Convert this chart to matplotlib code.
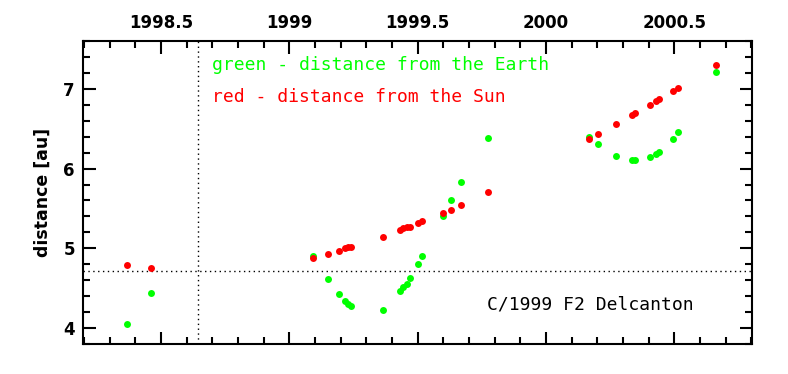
import numpy as np
import matplotlib
import matplotlib.pyplot as plt
from matplotlib.ticker import MultipleLocator

matplotlib.use('Agg')

# distance from the Earth (green)
earth_t = [1998.368, 1998.462, 1999.091, 1999.150, 1999.194, 1999.217, 1999.230, 1999.240,
           1999.364, 1999.431, 1999.444, 1999.457, 1999.470, 1999.500, 1999.517,
           1999.600, 1999.629, 1999.668, 1999.774,
           2000.168, 2000.203, 2000.273, 2000.334, 2000.347, 2000.405, 2000.427, 2000.441,
           2000.494, 2000.514, 2000.663]
earth_d = [4.059, 4.446, 4.910, 4.620, 4.430, 4.345, 4.310, 4.275,
           4.225, 4.470, 4.516, 4.558, 4.630, 4.800, 4.900,
           5.410, 5.607, 5.835, 6.385,
           6.397, 6.302, 6.160, 6.106, 6.102, 6.147, 6.181, 6.210,
           6.372, 6.456, 7.205]

# distance from the Sun (red)
sun_t = earth_t
sun_d = [4.787, 4.749, 4.886, 4.936, 4.974, 5.004, 5.016, 5.020,
         5.149, 5.232, 5.250, 5.262, 5.273, 5.316, 5.340,
         5.448, 5.486, 5.544, 5.703,
         6.372, 6.427, 6.556, 6.668, 6.693, 6.800, 6.847, 6.871,
         6.968, 7.009, 7.300]

perihelion_t = 1998.644
perihelion_q = 4.72

fig = plt.figure(figsize=(7.88, 3.74), dpi=100)
ax = fig.add_axes([0.1057, 0.0794, 0.8486, 0.8118])

ax.plot(earth_t, earth_d, 'o', color='#00ff00', markersize=5, markeredgewidth=0, zorder=3)
ax.plot(sun_t, sun_d, 'o', color='#ff0000', markersize=5, markeredgewidth=0, zorder=4)

ax.axvline(perihelion_t, color='black', linewidth=1, linestyle=(0, (1, 2.5)), zorder=2)
ax.axhline(perihelion_q, color='black', linewidth=1, linestyle=(0, (1, 2.5)), zorder=2)

ax.set_xlim(1998.197, 2000.802)
ax.set_ylim(3.8, 7.6)

ax.xaxis.set_major_locator(MultipleLocator(0.5))
ax.xaxis.set_minor_locator(MultipleLocator(0.1))
ax.yaxis.set_major_locator(MultipleLocator(1))
ax.yaxis.set_minor_locator(MultipleLocator(0.2))
ax.xaxis.set_major_formatter(plt.FuncFormatter(lambda v, p: ('%g' % v)))

ax.tick_params(which='both', direction='in', top=True, right=True, bottom=True, left=True,
               labeltop=True, labelbottom=False, width=1.5)
ax.tick_params(which='major', length=9, pad=6)
ax.tick_params(which='minor', length=5)
for lab in ax.get_xticklabels() + ax.get_yticklabels():
    lab.set_fontweight('bold')
    lab.set_fontsize(12)
for s in ax.spines.values():
    s.set_linewidth(1.5)

ax.set_ylabel('distance [au]', fontsize=12.5, fontweight='bold', labelpad=8)

mono = 'DejaVu Sans Mono'
ax.text(1998.70, 7.29, 'green - distance from the Earth', color='#00ff00',
        family=mono, fontsize=13, va='center', ha='left')
ax.text(1998.70, 6.89, 'red - distance from the Sun', color='#ff0000',
        family=mono, fontsize=13, va='center', ha='left')
ax.text(1999.769, 4.296, 'C/1999 F2 Delcanton', color='black',
        family=mono, fontsize=13, va='center', ha='left')

fig.savefig('out.png', dpi=100)
